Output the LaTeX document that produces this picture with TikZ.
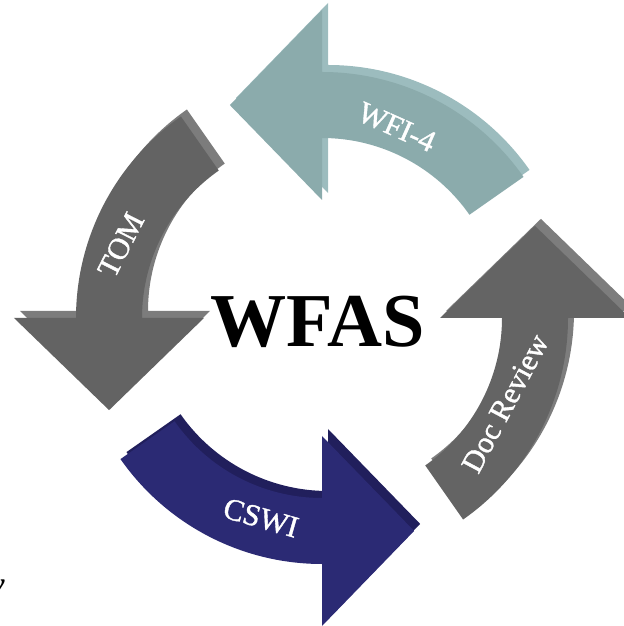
\documentclass[tikz,border=0pt]{standalone}
\usepackage{fontspec}
\setmainfont{Liberation Serif}
\newfontfamily\arrowfont[FakeBold=1.2]{Liberation Serif}
\definecolor{wfiface}{HTML}{8BABAC}
\definecolor{wfiside}{HTML}{9CBCBE}
\definecolor{tomface}{HTML}{636363}
\definecolor{tomside}{HTML}{7C7C7C}
\definecolor{cswiface}{HTML}{2B2A74}
\definecolor{cswiside}{HTML}{211F5C}
\definecolor{docface}{HTML}{646464}
\definecolor{docside}{HTML}{7D7D7D}
\begin{document}
\begin{tikzpicture}[scale=0.03,
    arrowtext/.style={text=white,font=\arrowfont\fontsize{26}{28}\selectfont},
    bigtext/.style={font=\bfseries\fontsize{65}{70}\selectfont}]
  \useasboundingbox (-322,-308) rectangle (301,318);
  % four curved arrows, head base at \a, running counter clockwise
  \foreach \a/\face/\side in {90/wfiface/wfiside,180/tomface/tomside,
                              270/cswiface/cswiside,0/docface/docside}{
    \fill[\side,shift={(6,7)}] (\a-55:180) -- (\a-55:246)
      arc[start angle=\a-55,end angle=\a,radius=246] -- (\a:308)
      -- (\a+23.4:232) -- (\a:118) -- (\a:180)
      arc[start angle=\a,end angle=\a-55,radius=180] -- cycle;
    \fill[\face] (\a-55:180) -- (\a-55:246)
      arc[start angle=\a-55,end angle=\a,radius=246] -- (\a:308)
      -- (\a+23.4:232) -- (\a:118) -- (\a:180)
      arc[start angle=\a,end angle=\a-55,radius=180] -- cycle;
  }
  \node[arrowtext,rotate=-24] (wfi) at (68.6:205) {WFI-4};
  \node[arrowtext,rotate=63] (tom) at (160:214) {TOM};
  \node[arrowtext,rotate=-16] (cswi) at (253:209) {CSWI};
  \node[arrowtext,rotate=62] (doc) at (-25:202) {Doc Review};
  \node[bigtext] (wfas) at (-4,-4) {WFAS};
  \node[font=\itshape\fontsize{31}{34}\selectfont,anchor=base east] (cut) at (-313,-278) {v};
\end{tikzpicture}
\end{document}
